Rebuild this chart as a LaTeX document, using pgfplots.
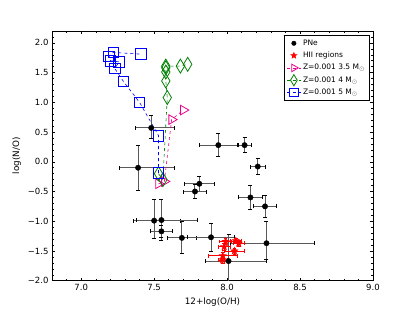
\documentclass[border=0pt]{standalone}
\usepackage{pgfplots}
\pgfplotsset{compat=1.18}
\usepackage{fontspec}
\setmainfont{DejaVu Sans}
\usetikzlibrary{plotmarks}

\pgfdeclareplotmark{fstar}{%
  \pgfpathmoveto{\pgfpointpolar{90}{\pgfplotmarksize}}%
  \pgfpathlineto{\pgfpointpolar{126}{0.42\pgfplotmarksize}}%
  \pgfpathlineto{\pgfpointpolar{162}{\pgfplotmarksize}}%
  \pgfpathlineto{\pgfpointpolar{198}{0.42\pgfplotmarksize}}%
  \pgfpathlineto{\pgfpointpolar{234}{\pgfplotmarksize}}%
  \pgfpathlineto{\pgfpointpolar{270}{0.42\pgfplotmarksize}}%
  \pgfpathlineto{\pgfpointpolar{306}{\pgfplotmarksize}}%
  \pgfpathlineto{\pgfpointpolar{342}{0.42\pgfplotmarksize}}%
  \pgfpathlineto{\pgfpointpolar{18}{\pgfplotmarksize}}%
  \pgfpathlineto{\pgfpointpolar{54}{0.42\pgfplotmarksize}}%
  \pgfpathclose
  \pgfusepathqfillstroke
}

\pgfplotsset{
  myleg/.style={legend image code/.code={%
    \draw[mark repeat=2,mark phase=2,##1,every mark/.append style={scale=0.8}]
      plot coordinates {(0cm,0cm) (0.24cm,0cm) (0.48cm,0cm)};}},
}

\begin{document}
\begin{tikzpicture}
\begin{axis}[
  at={(52pt,31.3pt)}, anchor=south west,
  scale only axis, width=321pt, height=249.7pt,
  xmin=6.8, xmax=9.0, ymin=-2, ymax=2.2,
  xtick={7,7.5,8,8.5,9}, xticklabels={7.0,7.5,8.0,8.5,9.0},
  ytick={-2,-1.5,-1,-0.5,0,0.5,1,1.5,2},
  yticklabels={−2.0,−1.5,−1.0,−0.5,0.0,0.5,1.0,1.5,2.0},
  minor xtick={6.8,6.9,...,9.01},
  minor ytick={-2,-1.9,...,2.21},
  tick align=inside, major tick length=3pt, minor tick length=1.6pt,
  every tick/.style={black, line width=0.5pt},
  axis line style={line width=0.8pt},
  ticklabel style={font=\fontsize{8.5}{10}\selectfont},
  label style={font=\fontsize{8.8}{10}\selectfont},
  xlabel={12+log(O/H)}, ylabel={log(N/O)},
  legend style={at={(0.99,0.984)}, anchor=north east,
    font=\fontsize{7.5}{9}\selectfont, draw=black, line width=0.6pt,
    row sep=1.2pt, inner sep=2.5pt},
  legend cell align=left,
]
% PNe
\addplot[myleg, only marks, mark=*, mark size=2.7pt, black, mark options={fill=black},
  error bars/.cd, x dir=both, x explicit, y dir=both, y explicit,
  error bar style={line width=1pt, black!65},
  error mark options={rotate=90, black, line width=0.9pt, mark size=2pt}]
coordinates {
  (7.48,0.57) += (0.16,0.21) -= (0.11,0.18)
  (7.39,-0.10) += (0.25,0.38) -= (0.13,0.38)
  (7.81,-0.37) += (0.10,0.13) -= (0.10,0.13)
  (7.78,-0.50) += (0.08,0.12) -= (0.08,0.12)
  (7.94,0.28) += (0.13,0.19) -= (0.13,0.19)
  (8.12,0.28) += (0.045,0.13) -= (0.045,0.13)
  (8.21,-0.08) += (0.05,0.13) -= (0.05,0.13)
  (8.16,-0.60) += (0.08,0.20) -= (0.08,0.20)
  (8.26,-0.75) += (0.08,0.19) -= (0.08,0.19)
  (7.50,-0.99) += (0.18,0.36) -= (0.14,0.30)
  (7.55,-0.98) += (0.25,0.35) -= (0.17,0.35)
  (7.55,-1.17) += (0.075,0.10) -= (0.075,0.10)
  (7.69,-1.28) += (0.10,0.27) -= (0.10,0.27)
  (7.89,-1.27) += (0.16,0.23) -= (0.16,0.23)
  (8.01,-1.67) += (0.26,0.44) -= (0.16,0.40)
  (8.27,-1.37) += (0.33,0.37) -= (0.25,0.27)
};
\addlegendentry{PNe}
% HII regions
\addplot[myleg, only marks, mark=fstar, mark size=3.8pt, red, mark options={fill=red},
  error bars/.cd, x dir=both, x explicit, y dir=both, y explicit,
  error bar style={line width=0.7pt, red},
  error mark options={rotate=90, red, line width=0.7pt, mark size=1.8pt}]
coordinates {
  (7.99,-1.34) +- (0.04,0.05)
  (8.06,-1.33) +- (0.04,0.05)
  (8.08,-1.37) +- (0.04,0.05)
  (7.98,-1.43) +- (0.04,0.06)
  (8.05,-1.50) +- (0.07,0.05)
  (7.97,-1.58) +- (0.10,0.05)
  (7.97,-1.65) +- (0.03,0.05)
};
\addlegendentry{HII regions}
% Z=0.001 3.5 Msun
\addplot[myleg, magenta, dashed, line width=0.6pt, mark=triangle, mark size=5.5pt,
  mark options={solid, rotate=-90, line width=0.8pt, fill=none}]
coordinates {
  (7.53,-0.37) (7.57,-0.33) (7.62,0.71) (7.70,0.87)
};
\addlegendentry{Z=0.001 3.5 M$_\odot$}
% Z=0.001 4 Msun
\addplot[myleg, green!50!black, dashed, line width=0.6pt, mark=diamond, mark size=7pt,
  mark options={solid, xscale=0.8, line width=0.8pt, fill=none}]
coordinates {
  (7.53,-0.20) (7.56,-0.30) (7.59,1.08) (7.58,1.36) (7.58,1.51)
  (7.58,1.58) (7.58,1.61) (7.68,1.61) (7.73,1.64)
};
\addlegendentry{Z=0.001 4 M$_\odot$}
% Z=0.001 5 Msun
\addplot[myleg, blue, dashed, line width=0.6pt, mark=square, mark size=5.3pt,
  mark options={solid, line width=0.8pt, fill=none}]
coordinates {
  (7.53,-0.19) (7.53,0.44) (7.40,1.00) (7.29,1.35) (7.23,1.57)
  (7.26,1.68) (7.20,1.70) (7.19,1.77) (7.22,1.84) (7.41,1.81)
};
\addlegendentry{Z=0.001 5 M$_\odot$}
\end{axis}
\pgfresetboundingbox
\path[use as bounding box] (0,0) rectangle (415pt,312pt);
\end{tikzpicture}
\end{document}
